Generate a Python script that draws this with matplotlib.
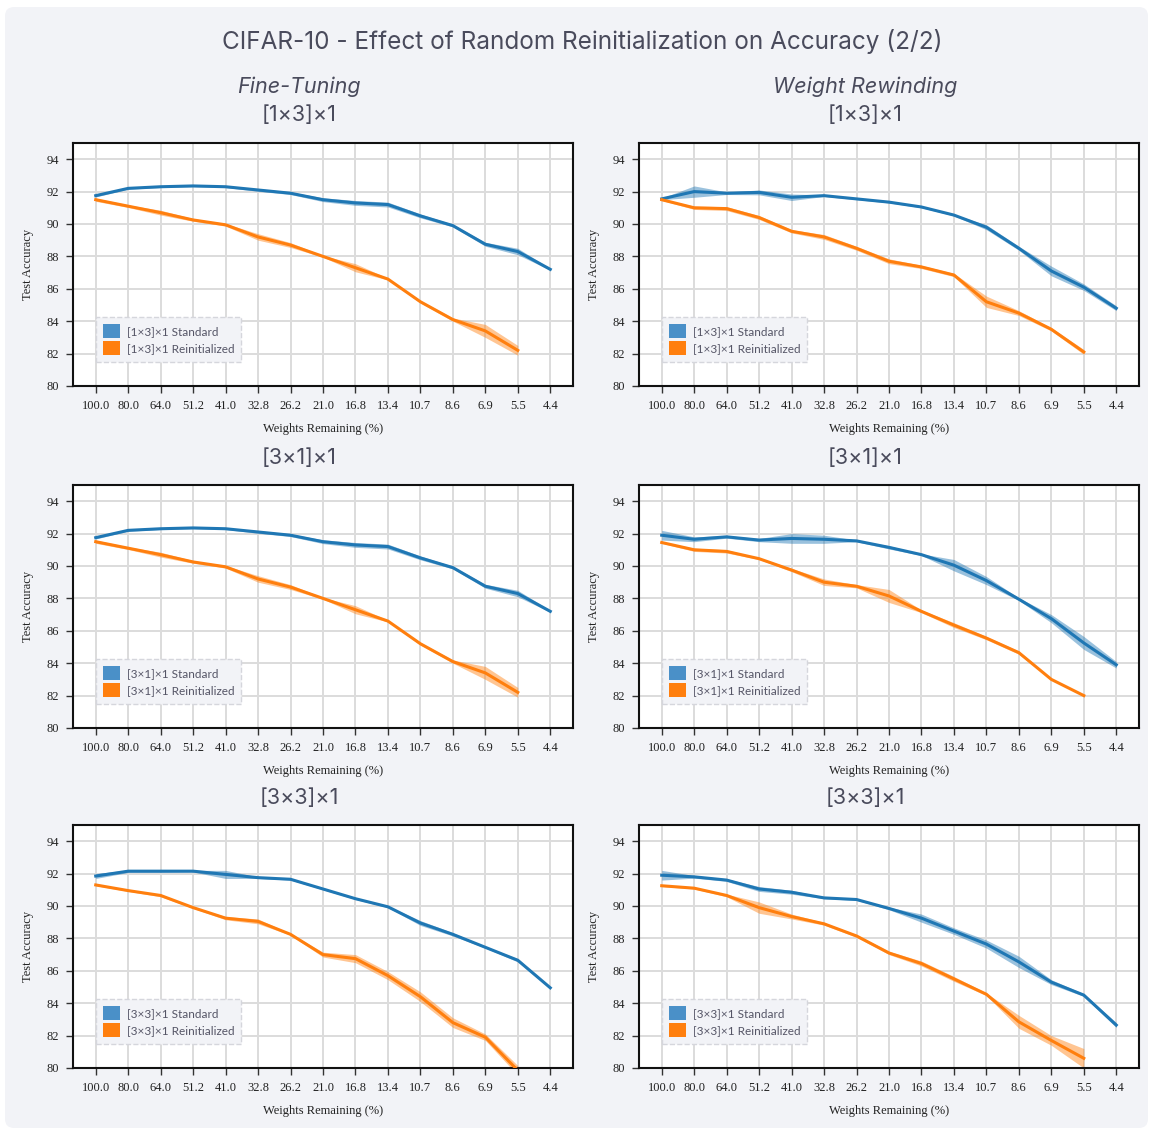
import numpy as np
import matplotlib
matplotlib.use("Agg")
import matplotlib.pyplot as plt
from matplotlib.patches import Patch, FancyBboxPatch

# x categories (weights remaining, %)
weights = ["100.0", "80.0", "64.0", "51.2", "41.0", "32.8", "26.2", "21.0",
           "16.8", "13.4", "10.7", "8.6", "6.9", "5.5", "4.4"]

# Fine-Tuning [1x3]x1
ft13_std = [91.75, 92.2, 92.3, 92.35, 92.3, 92.1, 91.9, 91.5, 91.3, 91.2, 90.5, 89.9, 88.75, 88.3, 87.2]
ft13_std_err = [0.08, 0.05, 0.05, 0.05, 0.05, 0.08, 0.08, 0.12, 0.15, 0.15, 0.12, 0.08, 0.12, 0.2, 0.05]
ft13_re = [91.5, 91.1, 90.7, 90.25, 89.95, 89.2, 88.7, 88.0, 87.3, 86.6, 85.2, 84.1, 83.4, 82.2]
ft13_re_err = [0.1, 0.08, 0.15, 0.08, 0.08, 0.2, 0.15, 0.05, 0.25, 0.05, 0.08, 0.1, 0.4, 0.3]

# Weight Rewinding [1x3]x1
wr13_std = [91.55, 92.0, 91.9, 91.95, 91.65, 91.75, 91.55, 91.35, 91.05, 90.55, 89.8, 88.5, 87.1, 86.1, 84.8]
wr13_std_err = [0.05, 0.35, 0.08, 0.15, 0.2, 0.05, 0.05, 0.05, 0.05, 0.05, 0.15, 0.12, 0.3, 0.2, 0.15]
wr13_re = [91.5, 91.0, 90.95, 90.4, 89.55, 89.2, 88.5, 87.7, 87.35, 86.85, 85.2, 84.5, 83.5, 82.1]
wr13_re_err = [0.05, 0.1, 0.12, 0.12, 0.1, 0.15, 0.12, 0.15, 0.1, 0.1, 0.35, 0.15, 0.1, 0.15]

# Fine-Tuning [3x1]x1
ft31_std = [91.75, 92.2, 92.3, 92.35, 92.3, 92.1, 91.9, 91.5, 91.3, 91.2, 90.5, 89.9, 88.75, 88.3, 87.2]
ft31_std_err = [0.08, 0.05, 0.05, 0.05, 0.05, 0.08, 0.08, 0.12, 0.15, 0.15, 0.12, 0.08, 0.12, 0.2, 0.05]
ft31_re = [91.5, 91.1, 90.7, 90.25, 89.95, 89.2, 88.7, 88.0, 87.3, 86.6, 85.2, 84.1, 83.4, 82.2]
ft31_re_err = [0.1, 0.08, 0.15, 0.08, 0.08, 0.2, 0.15, 0.05, 0.25, 0.05, 0.08, 0.1, 0.4, 0.3]

# Weight Rewinding [3x1]x1
wr31_std = [91.9, 91.65, 91.8, 91.6, 91.7, 91.65, 91.55, 91.15, 90.7, 90.05, 89.1, 87.95, 86.75, 85.25, 83.9]
wr31_std_err = [0.3, 0.15, 0.08, 0.1, 0.3, 0.25, 0.05, 0.1, 0.05, 0.35, 0.25, 0.08, 0.25, 0.4, 0.2]
wr31_re = [91.45, 91.0, 90.9, 90.45, 89.75, 89.0, 88.75, 88.15, 87.2, 86.35, 85.55, 84.65, 83.0, 82.0]
wr31_re_err = [0.05, 0.1, 0.1, 0.05, 0.1, 0.2, 0.1, 0.4, 0.08, 0.15, 0.1, 0.1, 0.03, 0.03]

# Fine-Tuning [3x3]x1
ft33_std = [91.85, 92.15, 92.15, 92.15, 91.95, 91.75, 91.65, 91.05, 90.45, 89.95, 88.95, 88.25, 87.45, 86.65, 84.95]
ft33_std_err = [0.15, 0.08, 0.08, 0.05, 0.25, 0.05, 0.05, 0.05, 0.05, 0.05, 0.15, 0.1, 0.05, 0.1, 0.05]
ft33_re = [91.3, 90.95, 90.65, 89.9, 89.25, 89.05, 88.25, 87.0, 86.75, 85.7, 84.4, 82.8, 81.9, 79.85]
ft33_re_err = [0.05, 0.05, 0.08, 0.05, 0.1, 0.15, 0.05, 0.15, 0.25, 0.25, 0.3, 0.3, 0.2, 0.3]

# Weight Rewinding [3x3]x1
wr33_std = [91.9, 91.8, 91.6, 91.05, 90.85, 90.5, 90.4, 89.85, 89.25, 88.45, 87.65, 86.55, 85.3, 84.5, 82.65]
wr33_std_err = [0.3, 0.08, 0.08, 0.15, 0.12, 0.05, 0.05, 0.08, 0.25, 0.2, 0.25, 0.35, 0.15, 0.08, 0.15]
wr33_re = [91.25, 91.1, 90.65, 89.9, 89.35, 88.9, 88.15, 87.1, 86.45, 85.5, 84.55, 82.85, 81.7, 80.6]
wr33_re_err = [0.05, 0.05, 0.08, 0.35, 0.15, 0.08, 0.08, 0.1, 0.15, 0.15, 0.08, 0.4, 0.3, 0.6]

panels = [
    ("[1×3]×1", ft13_std, ft13_std_err, ft13_re, ft13_re_err),
    ("[1×3]×1", wr13_std, wr13_std_err, wr13_re, wr13_re_err),
    ("[3×1]×1", ft31_std, ft31_std_err, ft31_re, ft31_re_err),
    ("[3×1]×1", wr31_std, wr31_std_err, wr31_re, wr31_re_err),
    ("[3×3]×1", ft33_std, ft33_std_err, ft33_re, ft33_re_err),
    ("[3×3]×1", wr33_std, wr33_std_err, wr33_re, wr33_re_err),
]

BLUE = "#1f77b4"
ORANGE = "#ff7f0e"
TXT = "#4a4b5c"
BG = "#f2f3f7"
SANS = ["Inter", "DejaVu Sans"]
LEG = ["Lato", "DejaVu Sans"]
SERIF = ["Liberation Serif", "DejaVu Serif"]

W, H = 1153, 1133
fig = plt.figure(figsize=(W / 100, H / 100), dpi=100)
fig.patch.set_facecolor("white")
fig.patches.append(FancyBboxPatch((5 / W, 5 / H), 1 - 10 / W, 1 - 12 / H,
                                  boxstyle="round,pad=0,rounding_size=0.008",
                                  transform=fig.transFigure, facecolor=BG,
                                  edgecolor="none", zorder=-10))

fig.text(582 / W, 1 - 42 / H, "CIFAR-10 - Effect of Random Reinitialization on Accuracy (2/2)",
         ha="center", va="center", fontsize=17.5, color=TXT, family=SANS)
fig.text(299 / W, 1 - 87 / H, "Fine-Tuning", ha="center", va="center",
         fontsize=15.5, style="italic", color=TXT, family=SANS)
fig.text(865 / W, 1 - 87 / H, "Weight Rewinding", ha="center", va="center",
         fontsize=15.5, style="italic", color=TXT, family=SANS)

col_left = [73, 639]
col_title_x = [299, 865]
row_top = [143, 485, 825]
row_title_y = [115, 458, 798]
ax_w, ax_h = 500, 243

x = np.arange(len(weights))
for i, (label, s, se, r, re_) in enumerate(panels):
    row, col = divmod(i, 2)
    left = col_left[col]
    top = row_top[row]
    ax = fig.add_axes([left / W, 1 - (top + ax_h) / H, ax_w / W, ax_h / H])
    ax.set_facecolor("white")

    s = np.array(s); se = np.array(se)
    r = np.array(r); re_ = np.array(re_)
    xs = x[:len(s)]
    xr = x[:len(r)]
    ax.fill_between(xs, s - se, s + se, color=BLUE, alpha=0.45, lw=0, zorder=2)
    ax.plot(xs, s, color=BLUE, lw=2.2, zorder=3)
    ax.fill_between(xr, r - re_, r + re_, color=ORANGE, alpha=0.45, lw=0, zorder=2)
    ax.plot(xr, r, color=ORANGE, lw=2.2, zorder=3)

    ax.set_xlim(-0.7, 14.7)
    ax.set_ylim(80, 95)
    ax.set_xticks(x)
    ax.set_xticklabels(weights)
    ax.set_yticks(np.arange(80, 95, 2))
    ax.grid(True, color="#dcdcdc", lw=1.4, zorder=0)
    ax.set_axisbelow(True)
    for sp in ax.spines.values():
        sp.set_color("#111111")
        sp.set_linewidth(1.5)
    ax.tick_params(axis="both", direction="out", length=5, width=1, color="#333333",
                   labelsize=9, labelcolor="#222222", pad=5)
    for t in ax.get_xticklabels() + ax.get_yticklabels():
        t.set_family(SERIF)
    ax.set_xlabel("Weights Remaining (%)", fontsize=9, family=SERIF, color="#222222", labelpad=8)
    ax.set_ylabel("Test Accuracy", fontsize=9, family=SERIF, color="#222222", labelpad=9)

    handles = [Patch(facecolor="#4a90c8", edgecolor="none", label=label + " Standard"),
               Patch(facecolor=ORANGE, edgecolor="none", label=label + " Reinitialized")]
    leg = ax.legend(handles=handles, loc="lower left", bbox_to_anchor=(0.046, 0.1),
                    borderaxespad=0, frameon=True, fancybox=False,
                    handlelength=1.4, handleheight=1.4,
                    handletextpad=0.6, borderpad=0.6, labelspacing=0.25,
                    prop={"family": LEG, "size": 8.5})
    fr = leg.get_frame()
    fr.set_facecolor(BG)
    fr.set_edgecolor("#d5d6dc")
    fr.set_linestyle("--")
    fr.set_linewidth(1.0)
    fr.set_alpha(1)
    for t in leg.get_texts():
        t.set_color("#555566")

    fig.text(col_title_x[col] / W, 1 - row_title_y[row] / H, label, ha="center",
             va="center", fontsize=15.5, color=TXT, family=SANS)

fig.savefig("out.png", dpi=100, facecolor=fig.get_facecolor())
